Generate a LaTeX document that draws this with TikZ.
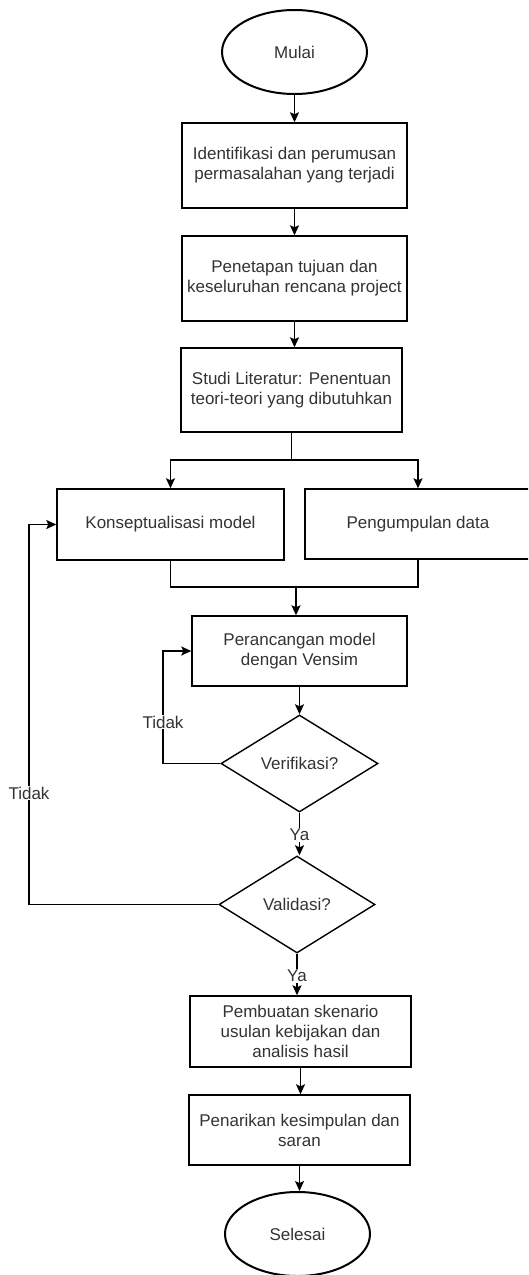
\documentclass[tikz,border=0pt]{standalone}
\usepackage{fontspec}
\setmainfont{Liberation Sans}
\usetikzlibrary{shapes.geometric,arrows.meta}
\definecolor{txt}{RGB}{51,51,51}
\begin{document}
\begin{tikzpicture}[x=1pt,y=-1pt,
  every node/.style={font=\fontsize{17pt}{20pt}\selectfont, text=txt, align=center},
  procbox/.style={draw=black, line width=1.4pt, rectangle, inner sep=0pt},
  term/.style={draw=black, line width=2pt, ellipse, inner sep=0pt, minimum width=145pt, minimum height=84pt},
  decide/.style={draw=black, line width=1.4pt, diamond, inner sep=0pt, aspect=1.6},
  arr/.style={line width=1.4pt, -{Stealth[length=10pt,width=9pt,inset=2pt]}},
  ln/.style={line width=1.4pt},
  lbl/.style={fill=white, inner sep=1pt}]
\useasboundingbox (0,0) rectangle (528,1275);
\clip (0,0) rectangle (528,1275);
\fill[white] (0,0) rectangle (528,1275);

\node[term] (mulai) at (294.5,52) {Mulai};
\node[procbox, minimum width=225pt, minimum height=85pt] (b1) at (294.5,165.5) {Identifikasi dan perumusan\\permasalahan yang terjadi};
\node[procbox, minimum width=225pt, minimum height=85pt] (b2) at (294.5,278.5) {Penetapan tujuan dan\\keseluruhan rencana project};
\node[procbox, minimum width=221pt, minimum height=84pt] (b3) at (291.5,390) {Studi Literatur: Penentuan\\teori-teori yang dibutuhkan};
\node[procbox, minimum width=227pt, minimum height=71pt] (k) at (170.5,524.5) {Konseptualisasi model};
\node[procbox, minimum width=226pt, minimum height=70pt] (p) at (418,524) {Pengumpulan data};
\node[procbox, minimum width=215pt, minimum height=70pt] (r) at (299.5,651) {Perancangan model\\dengan Vensim};
\node[decide, minimum width=157pt, minimum height=97pt] (v) at (299.5,763.5) {Verifikasi?};
\node[decide, minimum width=156pt, minimum height=97pt] (va) at (297,904.5) {Validasi?};
\node[procbox, minimum width=221pt, minimum height=71pt] (pb) at (300.5,1031.5) {Pembuatan skenario\\usulan kebijakan dan\\analisis hasil};
\node[procbox, minimum width=221pt, minimum height=70pt] (pn) at (299.5,1130) {Penarikan kesimpulan dan\\saran};
\node[term] (sel) at (297.5,1234) {Selesai};

\coordinate (split) at (291.5,460);
\coordinate (merge) at (296,587);
\coordinate (loopA) at (163,763.5);
\coordinate (loopB) at (29,904.5);

\draw[arr] (mulai.south) -- (mulai.south |- b1.north);
\draw[arr] (b1.south) -- (b1.south |- b2.north);
\draw[arr] (b2.south) -- (b3.north -| b2.south);
\draw[ln] (b3.south) -- (split);
\draw[arr] (split) -| (k.north);
\draw[arr] (split) -| (p.north);
\draw[ln] (k.south) |- (merge);
\draw[ln] (p.south) |- (merge);
\draw[arr] (merge) -- (merge |- r.north);
\draw[arr] (r.south) -- (r.south |- v.north);
\draw[arr] (v.west) -- (loopA) |- (r.west);
\node[lbl] (t1) at (163,722) {Tidak};
\draw[arr] (v.south) -- (va.north -| v.south);
\node[lbl] (y1) at (299.5,835) {Ya};
\draw[arr] (va.west) -- (loopB) |- (k.west);
\node[lbl] (t2) at (29,793) {Tidak};
\draw[arr] (va.south) -- (va.south |- pb.north);
\node[lbl] (y2) at (297,976) {Ya};
\draw[arr] (pb.south) -- (pb.south |- pn.north);
\draw[arr] (pn.south) -- (pn.south |- sel.north);
\end{tikzpicture}
\end{document}
